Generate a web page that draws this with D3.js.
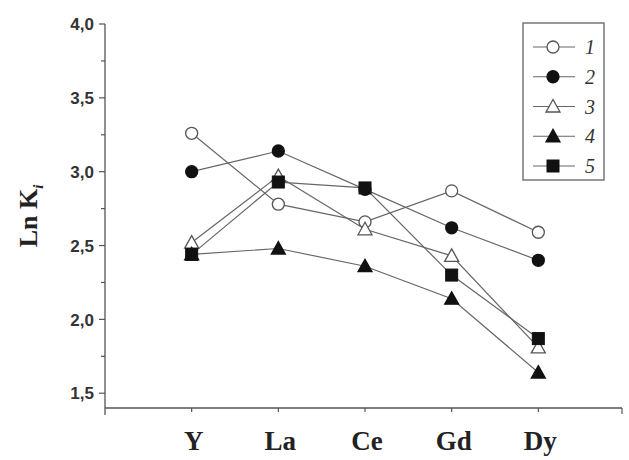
<!DOCTYPE html>
<html>
<head>
<meta charset="utf-8">
<script src="https://d3js.org/d3.v7.min.js"></script>
<style>
  body { margin: 0; background: #fff; }
</style>
</head>
<body>
<script>
// data
var elements = ["Y", "La", "Ce", "Gd", "Dy"];
var s1 = [3.26, 2.78, 2.66, 2.87, 2.59];
var s2 = [3.00, 3.14, 2.88, 2.62, 2.40];
var s3 = [2.52, 2.97, 2.61, 2.43, 1.81];
var s4 = [2.44, 2.48, 2.36, 2.14, 1.64];
var s5 = [2.44, 2.93, 2.89, 2.30, 1.87];
var seriesNames = ["1", "2", "3", "4", "5"];
var yTicks = [1.5, 2.0, 2.5, 3.0, 3.5, 4.0];

var series = [
  { name: seriesNames[0], values: s1, shape: "circle", filled: false },
  { name: seriesNames[1], values: s2, shape: "circle", filled: true },
  { name: seriesNames[2], values: s3, shape: "triangle", filled: false },
  { name: seriesNames[3], values: s4, shape: "triangle", filled: true },
  { name: seriesNames[4], values: s5, shape: "square", filled: true }
];

var width = 629, height = 460;
var svg = d3.select("body").append("svg")
  .attr("width", width)
  .attr("height", height);

var x = d3.scaleLinear().domain([0, 6]).range([105, 625]);
var y = d3.scaleLinear().domain([1.4, 4.0]).range([408, 24]);

var axisColor = "#555";
var lineColor = "#666";

// y axis: major + minor ticks
var yAxis = svg.append("g").attr("transform", "translate(" + x(0) + ",0)");
yAxis.append("line")
  .attr("y1", y(4.0)).attr("y2", 415)
  .attr("stroke", axisColor).attr("stroke-width", 1.3);
var minor = d3.range(1.75, 4.0, 0.5);
yAxis.selectAll(".minor").data(minor).enter().append("line")
  .attr("x1", -4).attr("x2", 0)
  .attr("y1", function (d) { return y(d); })
  .attr("y2", function (d) { return y(d); })
  .attr("stroke", axisColor).attr("stroke-width", 1.2);
yAxis.selectAll(".major").data(yTicks).enter().append("line")
  .attr("x1", -6).attr("x2", 0)
  .attr("y1", function (d) { return y(d); })
  .attr("y2", function (d) { return y(d); })
  .attr("stroke", axisColor).attr("stroke-width", 1.2);
yAxis.selectAll("text").data(yTicks).enter().append("text")
  .attr("x", -11)
  .attr("y", function (d) { return y(d); })
  .attr("dy", "0.36em")
  .attr("text-anchor", "end")
  .attr("font-family", "Liberation Sans, Arial, sans-serif")
  .attr("font-weight", "bold")
  .attr("font-size", 17)
  .attr("fill", "#333")
  .text(function (d) { return d.toFixed(1).replace(".", ","); });

// x axis
var xAxis = svg.append("g").attr("transform", "translate(0," + y(1.4) + ")");
xAxis.append("line")
  .attr("x1", x(0)).attr("x2", 622)
  .attr("stroke", axisColor).attr("stroke-width", 1.3);
xAxis.append("line")
  .attr("x1", 622).attr("x2", 622).attr("y1", 0).attr("y2", 6)
  .attr("stroke", axisColor).attr("stroke-width", 1.2);
xAxis.selectAll(".tick").data(elements).enter().append("line")
  .attr("x1", function (d, i) { return x(i + 1); })
  .attr("x2", function (d, i) { return x(i + 1); })
  .attr("y1", 0).attr("y2", 4)
  .attr("stroke", axisColor).attr("stroke-width", 1.2);
xAxis.selectAll("text").data(elements).enter().append("text")
  .attr("x", function (d, i) { return x(i + 1) + 2; })
  .attr("y", 42)
  .attr("text-anchor", "middle")
  .attr("font-family", "Liberation Serif, Times New Roman, serif")
  .attr("font-weight", "bold")
  .attr("font-size", 27)
  .attr("fill", "#222")
  .text(function (d) { return d; });

// y label
var yl = svg.append("text")
  .attr("transform", "translate(37,216) rotate(-90)")
  .attr("text-anchor", "middle")
  .attr("font-family", "Liberation Serif, Times New Roman, serif")
  .attr("font-weight", "bold")
  .attr("font-size", 26)
  .attr("fill", "#222");
yl.append("tspan").text("Ln K");
yl.append("tspan").attr("font-style", "italic").attr("font-size", 15)
  .attr("dy", 6).text("i");

// marker helper
function drawMarker(g, shape, filled, cx, cy) {
  var fill = filled ? "#111" : "#fff";
  var stroke = filled ? "#111" : "#555";
  if (shape === "circle") {
    g.append("circle").attr("cx", cx).attr("cy", cy).attr("r", 6)
      .attr("fill", fill).attr("stroke", stroke).attr("stroke-width", 1.3);
  } else if (shape === "square") {
    g.append("rect").attr("x", cx - 6).attr("y", cy - 6)
      .attr("width", 12).attr("height", 12)
      .attr("fill", fill).attr("stroke", stroke).attr("stroke-width", 1);
  } else {
    g.append("path")
      .attr("d", "M" + cx + "," + (cy - 7) + "L" + (cx + 7) + "," + (cy + 5.5) +
        "L" + (cx - 7) + "," + (cy + 5.5) + "Z")
      .attr("fill", fill).attr("stroke", stroke).attr("stroke-width", 1.3);
  }
}

// lines
var line = d3.line()
  .x(function (d, i) { return x(i + 1); })
  .y(function (d) { return y(d); });

svg.selectAll(".series").data(series).enter().append("path")
  .attr("d", function (d) { return line(d.values); })
  .attr("fill", "none")
  .attr("stroke", lineColor)
  .attr("stroke-width", 1.2);

// markers
var markers = svg.append("g");
series.forEach(function (s) {
  s.values.forEach(function (v, i) {
    drawMarker(markers, s.shape, s.filled, x(i + 1), y(v));
  });
});

// legend
var legend = svg.append("g");
legend.append("rect")
  .attr("x", 523).attr("y", 23).attr("width", 81).attr("height", 157)
  .attr("fill", "#fff").attr("stroke", "#777").attr("stroke-width", 1.5);
var ly = d3.scaleLinear().domain([0, 4]).range([47, 166]);
series.forEach(function (s, i) {
  var yy = ly(i);
  legend.append("line")
    .attr("x1", 533).attr("x2", 575).attr("y1", yy).attr("y2", yy)
    .attr("stroke", lineColor).attr("stroke-width", 1.2);
  drawMarker(legend, s.shape, s.filled, 553, yy);
  legend.append("text")
    .attr("x", 585).attr("y", yy).attr("dy", "0.35em")
    .attr("font-family", "Liberation Serif, Times New Roman, serif")
    .attr("font-style", "italic")
    .attr("font-size", 20)
    .attr("fill", "#333")
    .text(s.name);
});
</script>
</body>
</html>
